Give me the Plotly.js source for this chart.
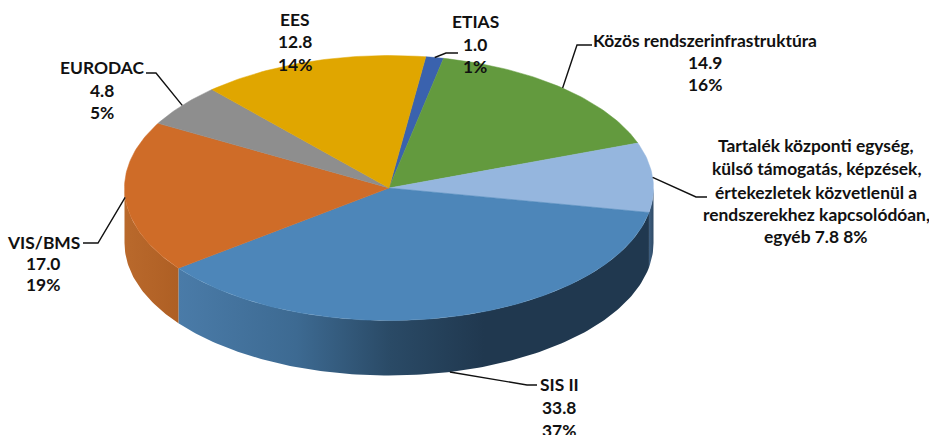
<!DOCTYPE html>
<html><head><meta charset="utf-8">
<script src="https://cdn.plot.ly/plotly-3.0.1.min.js"></script>
<style>html,body{margin:0;padding:0;background:#fff;overflow:hidden}#c{width:929px;height:435px}</style>
</head><body><div id="c"></div>
<script>
// Data, clockwise from the start angle
var categories = ["ETIAS","Közös rendszerinfrastruktúra","Tartalék központi egység, külső támogatás, képzések, értekezletek közvetlenül a rendszerekhez kapcsolódóan, egyéb","SIS II","VIS/BMS","EURODAC","EES"];
var values = [1.0,14.9,7.8,33.8,17.0,4.8,12.8];
var percents = ["1%","16%","8%","37%","19%","5%","14%"];
var labelLines = [
  ["ETIAS","1.0","1%"],
  ["Közös rendszerinfrastruktúra","14.9","16%"],
  ["Tartalék központi egység,","külső támogatás, képzések,","értekezletek közvetlenül a","rendszerekhez kapcsolódóan,","egyéb 7.8 8%"],
  ["SIS II","33.8","37%"],
  ["VIS/BMS","17.0","19%"],
  ["EURODAC","4.8","5%"],
  ["EES","12.8","14%"]
];

// Styles
var topColors = ["#3a62ae","#639a3e","#95b6de","#4d86b9","#cf6c28","#8e8e8e","#e0a600"];
var wallScales = [
  null,null,
  [[0,"#3f5f80"],[1,"#2f4a66"]],
  [[0,"#4a7ba8"],[0.25,"#3d6a92"],[0.45,"#2a4a66"],[0.65,"#20384f"],[1,"#20384f"]],
  [[0,"#b9692c"],[0.5,"#b46428"],[1,"#ae5f24"]],
  null,null
];

// Geometry of the drawing
var cx=389, cy=188, rx=264.5, ry=132.5, depth=55, startAngle=8;
var labelX = [475,705,816,559,43,102,295];
var labelY = [[21,44,66],[40,62,84],[145,168,192,214,236],[384,407,430],[242,263,284],[67,90,112],[19,41,64]];
var leaderElbow = [[446,53,458,53],[577,45,592,45],[696,197,707,197],[527,385,537,385],[98,243,83,243],[156,73,146,73],null];

function px(a){return cx+rx*Math.sin(a*Math.PI/180);}
function py(a,d){return cy-ry*Math.cos(a*Math.PI/180)+(d||0);}
function arc(a,b,d){var n=Math.max(2,Math.ceil(Math.abs(b-a))),xs=[],ys=[];
  for(var i=0;i<=n;i++){var t=a+(b-a)*i/n;xs.push(px(t));ys.push(py(t,d));}
  return {x:xs,y:ys};}

var total=values.reduce(function(s,v){return s+v;},0);
var traces=[],annotations=[];
var ang=startAngle, spans=[];
values.forEach(function(v){var e=ang+v/total*360;spans.push([ang,e]);ang=e;});

// side walls
spans.forEach(function(s,i){
  if(!wallScales[i])return;
  var a=Math.max(s[0],90), b=Math.min(s[1],270);
  if(b<=a)return;
  var t=arc(a,b,0), u=arc(b,a,depth);
  traces.push({type:"scatter",mode:"lines",x:t.x.concat(u.x),y:t.y.concat(u.y),fill:"toself",
    line:{width:0,color:"rgba(0,0,0,0)"},fillgradient:{type:"horizontal",colorscale:wallScales[i]},hoverinfo:"skip",showlegend:false});
});
// top slices
spans.forEach(function(s,i){
  var t=arc(s[0],s[1],0);
  traces.push({type:"scatter",mode:"lines",name:categories[i],x:[cx].concat(t.x,[cx]),y:[cy].concat(t.y,[cy]),fill:"toself",
    fillcolor:topColors[i],line:{width:0.5,color:topColors[i]},text:percents[i],hoverinfo:"name+text",showlegend:false});
});
// leader lines
spans.forEach(function(s,i){
  if(!leaderElbow[i])return;
  var m=(s[0]+s[1])/2, d=(m>90&&m<270&&i===3)?depth:0, e=leaderElbow[i];
  traces.push({type:"scatter",mode:"lines",x:[px(m),e[0],e[2]],y:[py(m,d),e[1],e[3]],
    line:{width:1.4,color:"#111"},hoverinfo:"skip",showlegend:false});
});
// labels
labelLines.forEach(function(lines,i){
  lines.forEach(function(txt,j){
    annotations.push({text:txt,x:labelX[i],y:labelY[i][j],xref:"x",yref:"y",showarrow:false,
      xanchor:"center",yanchor:"middle",font:{family:"Lato, Carlito, sans-serif",size:17.4,color:"#111",weight:700}});
  });
});

Plotly.newPlot("c",traces,{
  width:929,height:435,margin:{l:0,r:0,t:0,b:0},paper_bgcolor:"#fff",plot_bgcolor:"#fff",showlegend:false,
  xaxis:{range:[0,929],visible:false,fixedrange:true},
  yaxis:{range:[435,0],visible:false,fixedrange:true},
  annotations:annotations
},{displayModeBar:false,responsive:false});
</script></body></html>
